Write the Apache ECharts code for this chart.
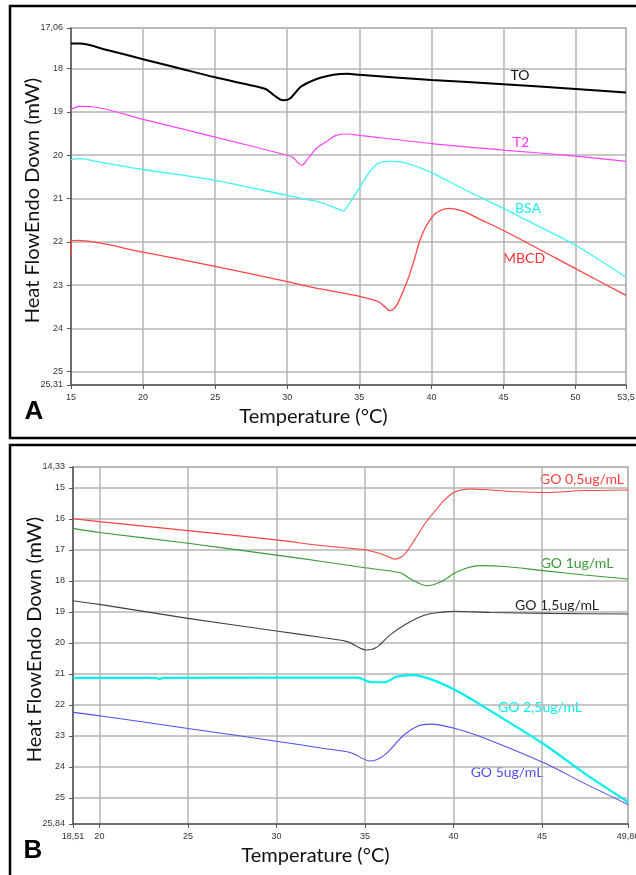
<!DOCTYPE html>
<html>
<head>
<meta charset="utf-8">
<script src="https://cdn.jsdelivr.net/npm/echarts@6/dist/echarts.min.js"></script>
<style>
  html, body { margin: 0; padding: 0; background: #fff; }
  #chart { width: 636px; height: 875px; }
</style>
</head>
<body>
<div id="chart"></div>
<script>
// panel A: temperature (°C) vs heat flow (mW)
var toData = [[15,17.42],[15.6,17.42],[17.5,17.57],[20,17.78],[22.5,17.99],[25,18.2],[27,18.35],[28.5,18.47],[29.1,18.62],[29.7,18.73],[30.2,18.69],[30.9,18.43],[31.6,18.3],[32.3,18.21],[33.2,18.14],[34.2,18.12],[35,18.14],[40,18.26],[45,18.36],[50,18.47],[53.5,18.55]];
var t2Data = [[15,18.94],[15.6,18.87],[16.5,18.88],[20,19.17],[25,19.58],[30,20.0],[30.4,20.05],[31.0,20.23],[31.5,20.05],[32.0,19.85],[32.7,19.69],[33.4,19.54],[34.2,19.51],[35,19.54],[40,19.73],[45,19.88],[50,20.02],[53.5,20.14]];
var bsaData = [[15,20.1],[15.6,20.08],[17,20.16],[20,20.33],[25,20.58],[30,20.93],[32.3,21.09],[32.9,21.16],[33.5,21.24],[33.9,21.29],[34.3,21.12],[35,20.76],[35.7,20.39],[36.3,20.19],[37.1,20.14],[38,20.16],[40,20.4],[42.4,20.81],[45,21.23],[46.6,21.5],[50,22.08],[53.5,22.82]];
var mbcdData = [[15,22.31],[15,21.99],[15.4,21.97],[20,22.24],[25,22.57],[30,22.92],[32.3,23.09],[35,23.26],[36.3,23.38],[36.8,23.51],[37.1,23.59],[37.4,23.55],[37.7,23.4],[38.3,22.93],[38.8,22.43],[39.2,21.97],[39.6,21.66],[39.9,21.5],[40.3,21.34],[41.2,21.23],[42.2,21.29],[43.3,21.47],[45,21.74],[50,22.62],[53.5,23.24]];

// panel B
var go05Data = [[18.51,16.0],[20,16.09],[25,16.38],[30,16.68],[32.5,16.86],[35,17.0],[35.8,17.11],[36.3,17.22],[36.7,17.3],[37.0,17.25],[37.3,17.11],[37.8,16.68],[38.4,16.15],[39.0,15.72],[39.5,15.39],[40.1,15.13],[41.0,15.04],[42.1,15.07],[43.6,15.13],[45.2,15.15],[47.4,15.09],[49.86,15.07]];
var go1Data = [[18.51,16.31],[20,16.44],[25,16.79],[30,17.17],[32.5,17.37],[35,17.58],[37.0,17.74],[37.6,17.95],[38.5,18.16],[39.3,18.03],[40.1,17.74],[40.8,17.58],[41.5,17.51],[42.9,17.54],[45.2,17.68],[47.4,17.81],[49.86,17.94]];
var go15Data = [[18.51,18.64],[20,18.76],[25,19.21],[30,19.62],[32.5,19.82],[34.0,19.96],[35.07,20.23],[35.7,20.13],[36.4,19.75],[37.4,19.37],[38.4,19.1],[39.5,19.0],[40.1,18.98],[42.1,19.02],[45.5,19.05],[49.86,19.07]];
var go25Data = [[18.51,21.13],[23.2,21.13],[23.4,21.17],[23.6,21.13],[34.6,21.12],[35.1,21.23],[35.4,21.27],[36.1,21.27],[36.8,21.09],[37.7,21.04],[38.7,21.17],[40.1,21.52],[41.4,21.95],[45.2,23.3],[47.4,24.21],[49.86,25.13]];
var go5Data = [[18.51,22.24],[20,22.35],[25,22.76],[30,23.17],[32.5,23.39],[34.2,23.54],[35.3,23.81],[36.1,23.62],[37.2,22.97],[38.0,22.68],[38.7,22.62],[40.1,22.76],[41.8,23.08],[45.2,23.89],[47.4,24.53],[49.86,25.21]];

var xRangeA = [15, 53.5];
var yRangeA = [17.06, 25.31];
var xRangeB = [18.51, 49.86];
var yRangeB = [14.33, 25.84];

var chart = echarts.init(document.getElementById('chart'));

function comma(v) {
    return String(v).replace('.', ',');
}

function xAxisOf(idx, range, split) {
    return {
        type: 'value',
        gridIndex: idx,
        min: range[0],
        max: range[1],
        splitNumber: split,
        name: 'Temperature (°C)',
        nameLocation: 'middle',
        nameGap: 22,
        nameTextStyle: { fontFamily: 'Lato', fontSize: 20, color: '#111', padding: [0, 70, 0, 0] },
        axisLine: { lineStyle: { color: '#555', width: 1.5 } },
        axisTick: { show: true, length: 4, lineStyle: { color: '#555' } },
        axisLabel: { formatter: comma, fontSize: 9, color: '#333', fontFamily: 'Liberation Sans', margin: 8, showMinLabel: true, showMaxLabel: true },
        splitLine: { show: true, lineStyle: { color: '#b4b4b4', width: 1.5 } }
    };
}

function yAxisOf(idx, range, split) {
    return {
        type: 'value',
        gridIndex: idx,
        inverse: true,
        min: range[0],
        max: range[1],
        splitNumber: split,
        name: 'Heat FlowEndo Down (mW)',
        nameLocation: 'middle',
        nameGap: 28,
        nameMoveOverlap: false,
        nameTextStyle: { fontFamily: 'Lato', fontSize: 20, color: '#111', padding: [0, 0, 0, 12] },
        axisLine: { lineStyle: { color: '#555', width: 1.5 } },
        axisTick: { show: true, length: 4, lineStyle: { color: '#555' } },
        axisLabel: { formatter: comma, fontSize: 9, color: '#333', fontFamily: 'Liberation Sans', margin: 8, showMinLabel: true, showMaxLabel: true },
        splitLine: { show: true, lineStyle: { color: '#b4b4b4', width: 1.5 } }
    };
}

function line(name, data, idx, color, width) {
    return {
        name: name,
        type: 'line',
        xAxisIndex: idx,
        yAxisIndex: idx,
        data: data,
        smooth: 0.3,
        showSymbol: false,
        lineStyle: { color: color, width: width },
        itemStyle: { color: color }
    };
}

function tag(text, x, y, color) {
    return {
        type: 'text',
        x: x,
        y: y,
        style: { text: text, fill: color, font: '14px Lato', align: 'center', verticalAlign: 'middle' }
    };
}

var option = {
    animation: false,
    backgroundColor: '#fff',
    grid: [
        { left: 71, top: 28, width: 555, height: 357, show: true, borderColor: '#b4b4b4', borderWidth: 1.5, outerBoundsMode: 'none' },
        { left: 73, top: 467, width: 555, height: 357, show: true, borderColor: '#b4b4b4', borderWidth: 1.5, outerBoundsMode: 'none' }
    ],
    xAxis: [xAxisOf(0, xRangeA, 8), xAxisOf(1, xRangeB, 6)],
    yAxis: [yAxisOf(0, yRangeA, 8), yAxisOf(1, yRangeB, 11)],
    series: [
        line('TO', toData, 0, '#000', 2),
        line('T2', t2Data, 0, '#ff40ff', 1.2),
        line('BSA', bsaData, 0, '#40f4f4', 1.3),
        line('MBCD', mbcdData, 0, '#ff4444', 1.3),
        line('GO 0,5ug/mL', go05Data, 1, '#ff4040', 1.1),
        line('GO 1ug/mL', go1Data, 1, '#3a9a3a', 1.1),
        line('GO 1,5ug/mL', go15Data, 1, '#404040', 1.1),
        line('GO 2,5ug/mL', go25Data, 1, '#00f0f0', 2.2),
        line('GO 5ug/mL', go5Data, 1, '#5050ee', 1.1)
    ],
    graphic: [
        { type: 'rect', shape: { x: 10, y: 6, width: 640, height: 432 }, style: { fill: 'none', stroke: '#000', lineWidth: 2.5 } },
        { type: 'rect', shape: { x: 10, y: 445, width: 640, height: 440 }, style: { fill: 'none', stroke: '#000', lineWidth: 2.5 } },
        { type: 'text', x: 34, y: 412, style: { text: 'A', fill: '#000', font: 'bold 26px Liberation Sans', align: 'center', verticalAlign: 'middle' } },
        { type: 'text', x: 33, y: 851, style: { text: 'B', fill: '#000', font: 'bold 26px Liberation Sans', align: 'center', verticalAlign: 'middle' } },
        tag('TO', 520, 75, '#111'),
        tag('T2', 521, 142, '#ff33ff'),
        tag('BSA', 528, 208, '#22eeee'),
        tag('MBCD', 524, 258, '#ff3333'),
        tag('GO 0,5ug/mL', 582, 479, '#ff4040'),
        tag('GO 1ug/mL', 577, 563, '#3a9a3a'),
        tag('GO 1,5ug/mL', 557, 605, '#222'),
        tag('GO 2,5ug/mL', 540, 707, '#00eeee'),
        tag('GO 5ug/mL', 507, 772, '#5050ee')
    ]
};

chart.setOption(option);

window.addEventListener('resize', function () {
    chart.resize();
});
</script>
</body>
</html>
